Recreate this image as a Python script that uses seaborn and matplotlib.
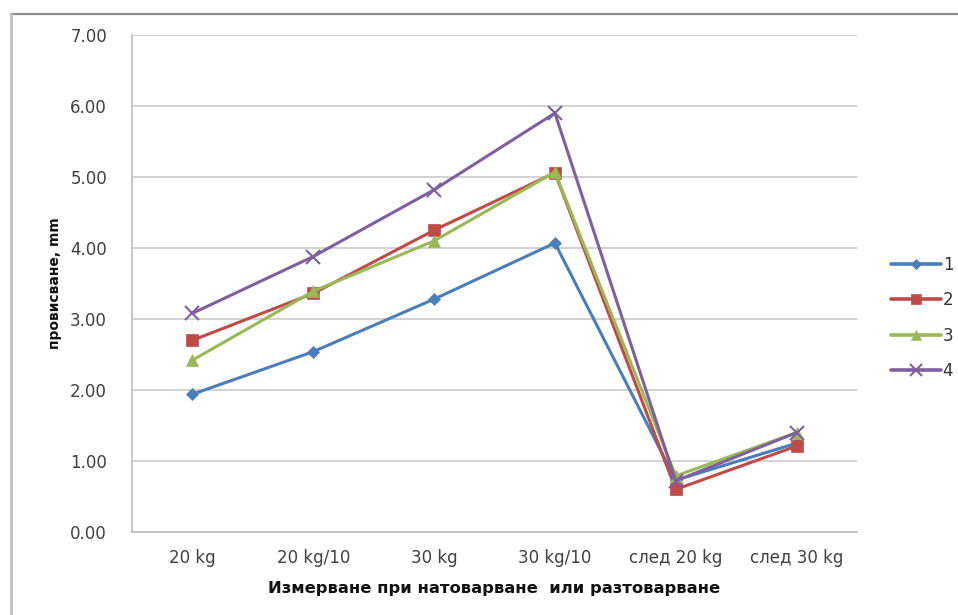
import matplotlib
matplotlib.use("Agg")
import matplotlib.pyplot as plt
from matplotlib.lines import Line2D
import pandas as pd
import seaborn as sns

categories = ["20 kg", "20 kg/10", "30 kg", "30 kg/10", "след 20 kg", "след 30 kg"]
series_names = ["1", "2", "3", "4"]
s1 = [1.94, 2.54, 3.28, 4.07, 0.73, 1.25]
s2 = [2.70, 3.36, 4.25, 5.06, 0.60, 1.21]
s3 = [2.42, 3.39, 4.10, 5.07, 0.79, 1.40]
s4 = [3.08, 3.88, 4.82, 5.90, 0.72, 1.40]
y_ticks = [0, 1, 2, 3, 4, 5, 6, 7]

colors = ["#4A7EBB", "#BE4B48", "#98B954", "#7D60A0"]
markers = ["D", "s", "^", "x"]
msizes = [6.5, 9, 9, 9.5]

rows = []
for name, vals in zip(series_names, [s1, s2, s3, s4]):
    for cat, v in zip(categories, vals):
        rows.append({"cat": cat, "val": v, "series": name})
df = pd.DataFrame(rows)

sns.set_theme(style="white")
plt.rcParams["font.family"] = ["DejaVu Sans"]

fig = plt.figure(figsize=(9.58, 6.15), dpi=100)
ax = fig.add_axes([132 / 958, 1 - 532 / 615, (857 - 132) / 958, (532 - 35) / 615])

for i, name in enumerate(series_names):
    sub = df[df["series"] == name]
    sns.lineplot(data=sub, x="cat", y="val", ax=ax, color=colors[i],
                 marker=markers[i], markersize=msizes[i], linewidth=2.2,
                 markeredgewidth=1.5 if markers[i] == "x" else 0.5,
                 markeredgecolor=colors[i], sort=False, legend=False, zorder=3 + i)

ax.set_xlim(-0.5, len(categories) - 0.5)
ax.set_ylim(0, 7)
ax.set_yticks(y_ticks)
ax.set_yticklabels([f"{t:.2f}" for t in y_ticks])
ax.set_xticks(range(len(categories)))
ax.set_xticklabels(categories)
ax.grid(axis="y", color="#CBCBCB", linewidth=1.2)
ax.set_axisbelow(True)
for side in ["top", "right"]:
    ax.spines[side].set_visible(False)
for side in ["left", "bottom"]:
    ax.spines[side].set_color("#BDBDBD")
    ax.spines[side].set_linewidth(1.2)
ax.tick_params(axis="y", labelsize=12, labelcolor="#404040", length=0, pad=18)
ax.tick_params(axis="x", labelsize=12, labelcolor="#404040", length=0, pad=12)

ax.set_xlabel("Измерване при натоварване  или разтоварване", fontsize=11.8,
              fontweight="bold", color="#111111", labelpad=10)
ax.set_ylabel("провисване, mm", fontsize=10, fontweight="bold",
              color="#111111", labelpad=6)

handles = [Line2D([0], [0], color=colors[i], marker=markers[i],
                  markersize=msizes[i] * 0.85, linewidth=2.6,
                  markeredgewidth=1.5 if markers[i] == "x" else 0.5,
                  markeredgecolor=colors[i])
           for i in range(len(series_names))]
fig.legend(handles, series_names, loc="center left", bbox_to_anchor=(876 / 958, 1 - 318 / 615),
           frameon=False, fontsize=12, handlelength=3.0, labelspacing=1.05,
           handletextpad=0.1, labelcolor="#333333")

# chart-area frame on the top and left edges
fig.add_artist(Line2D([11 / 958, 1.0], [1 - 14 / 615, 1 - 14 / 615],
                      transform=fig.transFigure, color="#8C8C8C", linewidth=1.6))
fig.add_artist(Line2D([11 / 958, 11 / 958], [0.0, 1 - 14 / 615],
                      transform=fig.transFigure, color="#C0C0C0", linewidth=2.0))

fig.savefig("out.png", dpi=100)
